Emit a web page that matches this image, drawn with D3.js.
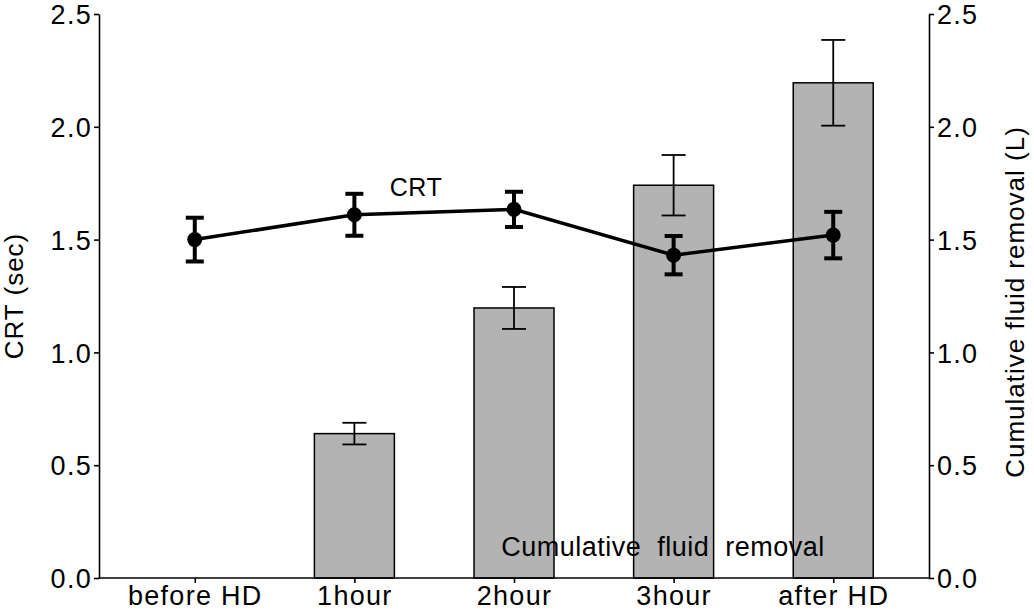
<!DOCTYPE html>
<html>
<head>
<meta charset="utf-8">
<script src="https://cdn.jsdelivr.net/npm/d3@7"></script>
<style>
  html, body { margin: 0; padding: 0; background: #fff; }
  svg { display: block; font-family: "Liberation Sans", Arial, Helvetica, sans-serif; }
</style>
</head>
<body>
<svg id="chart" width="1034" height="611"></svg>
<script>
const categories = ["before HD", "1hour", "2hour", "3hour", "after HD"];
const crtValues = [1.50, 1.61, 1.634, 1.431, 1.52];
const crtErrors = [0.097, 0.093, 0.078, 0.085, 0.103];
const fluidValues = [0, 0.64, 1.197, 1.741, 2.195];
const fluidErrors = [0, 0.048, 0.093, 0.134, 0.19];
const yTicks = [0.0, 0.5, 1.0, 1.5, 2.0, 2.5];

const svg = d3.select("#chart");
const mLeft = 99, mRight = 929, mTop = 14, mBottom = 578;

const x = d3.scalePoint().domain(categories).range([mLeft, mRight]).padding(0.6);
const yL = d3.scaleLinear().domain([0, 2.5]).range([mBottom, mTop]);
const yR = d3.scaleLinear().domain([0, 2.5]).range([mBottom, mTop]);

const barW = 80;

// bars
const bars = categories.map((c, i) => ({c, v: fluidValues[i], e: fluidErrors[i]})).filter(d => d.v > 0);
svg.append("g").selectAll("rect").data(bars).join("rect")
  .attr("x", d => x(d.c) - barW / 2)
  .attr("width", barW)
  .attr("y", d => yR(d.v))
  .attr("height", d => yR(0) - yR(d.v))
  .attr("fill", "#b3b3b3")
  .attr("stroke", "#000")
  .attr("stroke-width", 1.5);

// fluid error bars
const fe = svg.append("g").attr("stroke", "#000").attr("stroke-width", 1.8);
bars.forEach(d => {
  const cx = x(d.c);
  fe.append("line").attr("x1", cx).attr("x2", cx).attr("y1", yR(d.v + d.e)).attr("y2", yR(d.v - d.e));
  fe.append("line").attr("x1", cx - 12).attr("x2", cx + 12).attr("y1", yR(d.v + d.e)).attr("y2", yR(d.v + d.e));
  fe.append("line").attr("x1", cx - 12).attr("x2", cx + 12).attr("y1", yR(d.v - d.e)).attr("y2", yR(d.v - d.e));
});

// axes
const axL = svg.append("g").attr("transform", `translate(${mLeft},0)`)
  .call(d3.axisLeft(yL).tickValues(yTicks).tickFormat(d3.format(".1f")).tickSize(5).tickSizeOuter(0));
const axR = svg.append("g").attr("transform", `translate(${mRight},0)`)
  .call(d3.axisRight(yR).tickValues(yTicks).tickFormat(d3.format(".1f")).tickSize(5).tickSizeOuter(0));
const axB = svg.append("g").attr("transform", `translate(0,${mBottom})`)
  .call(d3.axisBottom(x).tickSize(5).tickSizeOuter(0));
axB.select(".domain").attr("d", `M${mLeft},0H${mRight}`);
[axL, axR, axB].forEach(a => {
  a.select(".domain").attr("stroke", "#000").attr("stroke-width", 1.6);
  a.selectAll(".tick line").attr("stroke", "#000").attr("stroke-width", 1.6);
  a.selectAll(".tick text").attr("fill", "#000")
    .style("font-family", "Liberation Sans, Arial, sans-serif")
    .style("font-size", "27px").style("letter-spacing", "1.3px");
});
axL.selectAll(".tick text").attr("x", -7).attr("dy", "0.36em");
axR.selectAll(".tick text").attr("x", 8).attr("dy", "0.36em");
axB.selectAll(".tick text").attr("y", 7).attr("dy", "0.75em");

// axis titles
svg.append("text")
  .attr("transform", `translate(23,${(mTop + mBottom) / 2}) rotate(-90)`)
  .attr("text-anchor", "middle")
  .style("font-size", "26px").style("letter-spacing", "1px")
  .text("CRT (sec)");
svg.append("text")
  .attr("transform", `translate(1024,${(mTop + mBottom) / 2 + 6}) rotate(-90)`)
  .attr("text-anchor", "middle")
  .style("font-size", "26px").style("letter-spacing", "1px")
  .text("Cumulative fluid removal (L)");

// CRT line
const crt = categories.map((c, i) => ({c, v: crtValues[i], e: crtErrors[i]}));
svg.append("path").datum(crt)
  .attr("fill", "none").attr("stroke", "#000").attr("stroke-width", 3.5)
  .attr("d", d3.line().x(d => x(d.c)).y(d => yL(d.v)));

const ce = svg.append("g").attr("stroke", "#000").attr("stroke-width", 4);
crt.forEach(d => {
  const cx = x(d.c);
  ce.append("line").attr("x1", cx).attr("x2", cx).attr("y1", yL(d.v + d.e)).attr("y2", yL(d.v - d.e));
  ce.append("line").attr("x1", cx - 9).attr("x2", cx + 9).attr("y1", yL(d.v + d.e)).attr("y2", yL(d.v + d.e));
  ce.append("line").attr("x1", cx - 9).attr("x2", cx + 9).attr("y1", yL(d.v - d.e)).attr("y2", yL(d.v - d.e));
});
svg.append("g").selectAll("circle").data(crt).join("circle")
  .attr("cx", d => x(d.c)).attr("cy", d => yL(d.v)).attr("r", 7.5).attr("fill", "#000");

// series labels
svg.append("text").attr("x", 416).attr("y", 196).attr("text-anchor", "middle")
  .style("font-size", "25px").style("letter-spacing", "0.5px").text("CRT");
svg.append("text").attr("x", 663).attr("y", 556).attr("text-anchor", "middle")
  .style("font-size", "27px").style("letter-spacing", "0.5px")
  .style("white-space", "pre").attr("xml:space", "preserve")
  .text("Cumulative  fluid  removal");
</script>
</body>
</html>
